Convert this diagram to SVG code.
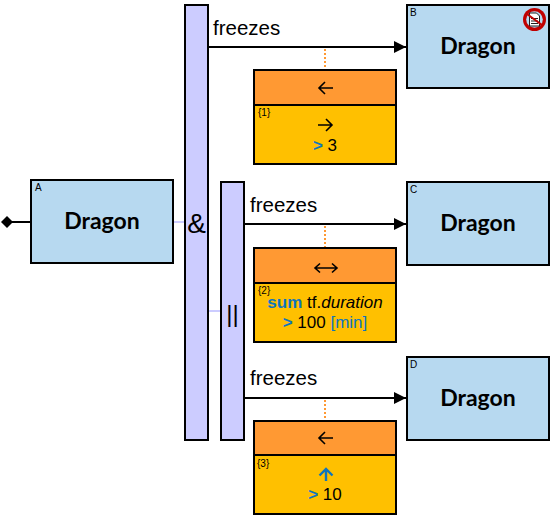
<svg xmlns="http://www.w3.org/2000/svg" width="550" height="515" viewBox="0 0 550 515">
<style>
text{font-family:"Liberation Sans",Arial,sans-serif;fill:#000}
.box{fill:#b7d9f0;stroke:#000;stroke-width:2}
.bar{fill:#ccccff;stroke:#000;stroke-width:2}
.org{fill:#ff9933;stroke:#000;stroke-width:2}
.yel{fill:#ffc000;stroke:#000;stroke-width:2}
.name{font-family:Lato,"Open Sans",sans-serif;font-weight:700;font-size:23px;text-anchor:middle}
.id{font-size:10px}
.lab{font-size:20.500px}
.mid{font-size:17px;text-anchor:middle}
.blue{fill:#0f75bd}
.line{stroke:#000;stroke-width:2;fill:none}
.dot{stroke:#ff9933;stroke-width:2;stroke-dasharray:2 2;fill:none}
.soft{stroke:#ccccff;stroke-width:2;fill:none}
.ar{stroke:#000;stroke-width:1.600;fill:none}
</style>
<defs>
<marker id="tri" markerUnits="userSpaceOnUse" markerWidth="12" markerHeight="12" refX="12" refY="6" orient="auto"><path d="M0,0L12,6L0,12Z" fill="#000"/></marker>
</defs>
<g id="connectors">
<path class="line" d="M8,222H31"/>
<path d="M1,222L7,216L13,222L7,228Z" fill="#000"/>
<path class="soft" d="M173,222H185"/>
<path class="soft" d="M208,311H221"/>
<path class="line" d="M208,47H406" marker-end="url(#tri)"/>
<path class="line" d="M244,224H406" marker-end="url(#tri)"/>
<path class="line" d="M244,398H406" marker-end="url(#tri)"/>
<path class="dot" d="M325,49V70"/>
<path class="dot" d="M325,226V248"/>
<path class="dot" d="M325,400V421"/>
</g>
<g id="node-a"><rect class="box" x="31" y="180" width="142" height="83"/><text class="id" x="35" y="191">A</text><text class="name" x="102" y="229">Dragon</text></g>
<g id="node-b"><rect class="box" x="407" y="5" width="142" height="83"/><text class="id" x="410" y="16">B</text><text class="name" x="478" y="54">Dragon</text>
<circle cx="534.500" cy="19.500" r="11.500" fill="#c00000"/><circle cx="534.500" cy="19.500" r="8.300" fill="#b7d9f0"/>
<path d="M529.500,13h7l3,3v10h-10z" fill="#fff" stroke="#222" stroke-width="1"/><path d="M531,18.500h7M531,21h7M531,23.500h7" stroke="#222" stroke-width="1"/><path d="M527,14L542,25" stroke="#c00000" stroke-width="2"/></g>
<g id="node-c"><rect class="box" x="407" y="182" width="142" height="83"/><text class="id" x="410" y="193">C</text><text class="name" x="478" y="231">Dragon</text></g>
<g id="node-d"><rect class="box" x="407" y="357" width="142" height="83"/><text class="id" x="410" y="368">D</text><text class="name" x="478" y="406">Dragon</text></g>
<g id="and"><rect class="bar" x="185" y="5" width="23" height="435"/><text x="196.500" y="233" font-size="28" text-anchor="middle">&amp;</text></g>
<g id="or"><rect class="bar" x="221" y="182" width="23" height="258"/><text x="232.500" y="322" font-size="24" text-anchor="middle">||</text></g>
<g id="label-1"><text class="lab" x="213" y="35">freezes</text></g>
<g id="label-2"><text class="lab" x="250" y="212">freezes</text></g>
<g id="label-3"><text class="lab" x="250" y="385">freezes</text></g>
<g id="constraint-1">
<rect class="org" x="254" y="70" width="142" height="35"/><rect class="yel" x="254" y="105" width="142" height="59"/>
<path class="ar" d="M333,88H319M325,82L319,88L325,94"/>
<text class="id" x="258" y="116">{1}</text>
<path class="ar" d="M318,125H332M326,119L332,125L326,131"/>
<text class="mid" x="325" y="151"><tspan class="blue" font-weight="700">&gt;</tspan> 3</text>
</g>
<g id="constraint-2">
<rect class="org" x="254" y="248" width="142" height="35"/><rect class="yel" x="254" y="283" width="142" height="59"/>
<path class="ar" d="M315,268H337M320,263.500L315,268L320,272.500M332,263.500L337,268L332,272.500"/>
<text class="id" x="258" y="294">{2}</text>
<text class="mid" x="325" y="308"><tspan class="blue" font-weight="700">sum</tspan> tf.<tspan font-style="italic">duration</tspan></text>
<text class="mid" x="325" y="328"><tspan class="blue" font-weight="700">&gt;</tspan> 100 <tspan class="blue">[min]</tspan></text>
</g>
<g id="constraint-3">
<rect class="org" x="254" y="421" width="142" height="35"/><rect class="yel" x="254" y="455" width="142" height="59"/>
<path class="ar" d="M333,438H319M325,432L319,438L325,444"/>
<text class="id" x="257" y="467">{3}</text>
<path d="M326,481V469M319.500,475.500L326,469L332.500,475.500" fill="none" stroke="#0f75bd" stroke-width="2.400"/>
<text class="mid" x="325" y="500"><tspan class="blue" font-weight="700">&gt;</tspan> 10</text>
</g>
</svg>
